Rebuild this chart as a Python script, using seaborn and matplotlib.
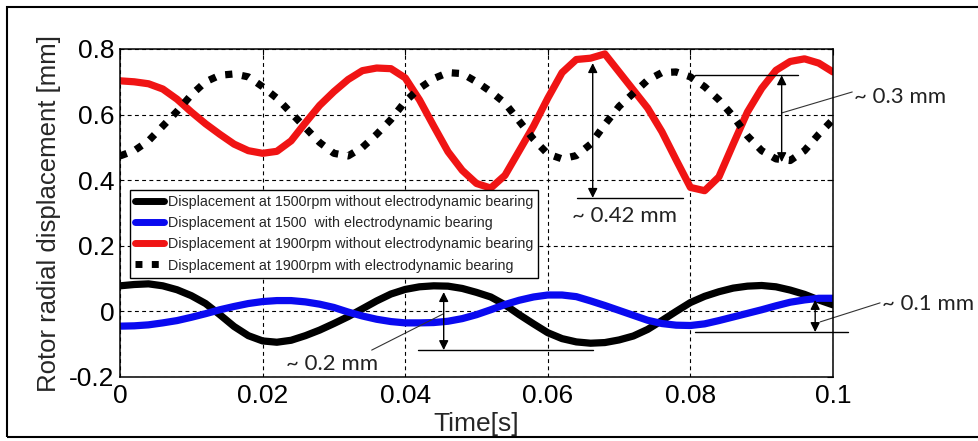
import matplotlib
matplotlib.use('Agg')
import matplotlib.pyplot as plt
from matplotlib.lines import Line2D
from matplotlib.patches import Rectangle
import seaborn as sns
import pandas as pd

# time axis [s]
time_s = [0.000, 0.002, 0.004, 0.006, 0.008, 0.010, 0.012, 0.014, 0.016, 0.018,
          0.020, 0.022, 0.024, 0.026, 0.028, 0.030, 0.032, 0.034, 0.036, 0.038,
          0.040, 0.042, 0.044, 0.046, 0.048, 0.050, 0.052, 0.054, 0.056, 0.058,
          0.060, 0.062, 0.064, 0.066, 0.068, 0.070, 0.072, 0.074, 0.076, 0.078,
          0.080, 0.082, 0.084, 0.086, 0.088, 0.090, 0.092, 0.094, 0.096, 0.098,
          0.100]

# displacement [mm]
disp_1500_without = [0.078, 0.082, 0.084, 0.078, 0.066, 0.048, 0.024, -0.010, -0.046, -0.074,
                     -0.090, -0.094, -0.088, -0.074, -0.057, -0.037, -0.016, 0.008, 0.032, 0.053,
                     0.067, 0.075, 0.078, 0.077, 0.070, 0.058, 0.044, 0.020, -0.010, -0.038,
                     -0.065, -0.083, -0.093, -0.097, -0.095, -0.087, -0.075, -0.055, -0.028, 0.000,
                     0.027, 0.046, 0.060, 0.071, 0.077, 0.079, 0.075, 0.065, 0.052, 0.035,
                     0.020]
disp_1500_with = [-0.045, -0.044, -0.041, -0.035, -0.028, -0.018, -0.007, 0.005, 0.015, 0.024,
                  0.030, 0.033, 0.033, 0.029, 0.022, 0.012, -0.002, -0.014, -0.024, -0.031,
                  -0.035, -0.035, -0.034, -0.030, -0.022, -0.010, 0.005, 0.021, 0.034, 0.044,
                  0.050, 0.050, 0.045, 0.032, 0.018, 0.003, -0.012, -0.027, -0.037, -0.042,
                  -0.043, -0.038, -0.028, -0.017, -0.006, 0.005, 0.017, 0.028, 0.035, 0.040,
                  0.040]
disp_1900_without = [0.703, 0.700, 0.694, 0.678, 0.647, 0.608, 0.572, 0.540, 0.510, 0.490,
                     0.482, 0.488, 0.520, 0.575, 0.628, 0.670, 0.707, 0.734, 0.742, 0.740,
                     0.712, 0.645, 0.565, 0.487, 0.430, 0.390, 0.376, 0.415, 0.490, 0.565,
                     0.650, 0.728, 0.768, 0.772, 0.785, 0.730, 0.675, 0.620, 0.548, 0.462,
                     0.378, 0.368, 0.410, 0.510, 0.608, 0.680, 0.735, 0.762, 0.770, 0.757,
                     0.730]
disp_1900_with = [0.474, 0.490, 0.520, 0.565, 0.610, 0.660, 0.700, 0.720, 0.724, 0.715,
                  0.685, 0.650, 0.605, 0.560, 0.515, 0.482, 0.474, 0.500, 0.540, 0.585,
                  0.640, 0.680, 0.710, 0.728, 0.725, 0.700, 0.670, 0.635, 0.580, 0.525,
                  0.480, 0.465, 0.475, 0.510, 0.570, 0.625, 0.665, 0.705, 0.728, 0.730,
                  0.715, 0.685, 0.645, 0.595, 0.535, 0.490, 0.465, 0.460, 0.490, 0.540,
                  0.585]

series_labels = ['Displacement at 1500rpm without electrodynamic bearing',
                 'Displacement at 1500  with electrodynamic bearing',
                 'Displacement at 1900rpm without electrodynamic bearing',
                 'Displacement at 1900rpm with electrodynamic bearing']
series_values = [disp_1500_without, disp_1500_with, disp_1900_without, disp_1900_with]
series_colors = ['black', '#0a0af0', '#f01414', 'black']
dotted = (1, 1.35)
series_dashes = ['', '', '', dotted]

x_ticks = [0, 0.02, 0.04, 0.06, 0.08, 0.1]
x_ticklabels = ['0', '0.02', '0.04', '0.06', '0.08', '0.1']
y_ticks = [-0.2, 0, 0.2, 0.4, 0.6, 0.8]
y_ticklabels = ['-0.2', '0', '0.2', '0.4', '0.6', '0.8']

df = pd.concat([pd.DataFrame({'time': time_s, 'disp': v, 'series': lab})
                for lab, v in zip(series_labels, series_values)], ignore_index=True)

sns.set_style('white')
plt.rcParams['font.family'] = ['Liberation Sans', 'DejaVu Sans']

fig = plt.figure(figsize=(9.79, 4.41), dpi=100)
ax = fig.add_axes([120 / 979, 64 / 441, 713 / 979, 328 / 441])

sns.lineplot(data=df, x='time', y='disp', hue='series', style='series',
             palette=dict(zip(series_labels, series_colors)),
             dashes=dict(zip(series_labels, series_dashes)),
             linewidth=5.2, estimator=None, sort=False, legend=False, ax=ax)

ax.set_xlim(0, 0.1)
ax.set_ylim(-0.2, 0.8)
ax.set_xticks(x_ticks)
ax.set_xticklabels(x_ticklabels)
ax.set_yticks(y_ticks)
ax.set_yticklabels(y_ticklabels)
ax.tick_params(axis='both', direction='in', length=4, width=0.8, labelsize=19,
               top=True, right=True, colors='black')
ax.tick_params(axis='x', pad=5)
ax.tick_params(axis='y', pad=4)
ax.grid(True, color='black', linestyle=(0, (3.5, 3)), linewidth=0.8)
for s in ax.spines.values():
    s.set_color('black')
    s.set_linewidth(1.1)

ax.set_xlabel('Time[s]', fontsize=19, labelpad=3)
ax.set_ylabel('Rotor radial displacement [mm]', fontsize=18.5)
ax.yaxis.set_label_coords(-0.083, 0.5)

# legend
handles = [Line2D([0], [0], color=c, lw=5,
                  linestyle='-' if d == '' else (0, d))
           for c, d in zip(series_colors, series_dashes)]
leg = ax.legend(handles, series_labels, loc='upper left', bbox_to_anchor=(0.014, 0.570),
                frameon=True, fancybox=False, edgecolor='black', framealpha=1,
                fontsize=10.3, handlelength=2.0, handletextpad=0.3, labelspacing=0.5,
                borderpad=0.35, borderaxespad=0)
leg.get_frame().set_linewidth(1.0)

# measurement annotations
ann_font = dict(family=['Lato', 'DejaVu Sans'], size=16, color='#222222')
arrow = dict(arrowstyle='<|-|>', color='black', lw=1, mutation_scale=14,
             shrinkA=0, shrinkB=0)

def span(x, y0, y1, hx0, hx1, hy):
    ax.annotate('', xy=(x, y0), xytext=(x, y1), arrowprops=arrow, annotation_clip=False)
    ax.plot([hx0, hx1], [hy, hy], color='black', lw=1, clip_on=False)

span(0.0928, 0.72, 0.455, 0.0806, 0.0951, 0.72)
ax.plot([0.0928, 0.1027], [0.605, 0.669], color='#333333', lw=0.8, clip_on=False)
ax.text(0.1029, 0.655, '~ 0.3 mm', ha='left', va='center', **ann_font)

span(0.0663, 0.757, 0.346, 0.0641, 0.0790, 0.346)
ax.text(0.0708, 0.292, '~ 0.42 mm', ha='center', va='center', **ann_font)

span(0.0454, 0.059, -0.118, 0.0418, 0.0663, -0.118)
ax.plot([0.0353, 0.0453], [-0.118, -0.008], color='#333333', lw=0.8)
ax.text(0.0297, -0.160, '~ 0.2 mm', ha='center', va='center', **ann_font)

span(0.0975, 0.035, -0.063, 0.0806, 0.1021, -0.063)
ax.plot([0.0982, 0.1066], [-0.032, 0.026], color='#333333', lw=0.8, clip_on=False)
ax.text(0.1069, 0.022, '~ 0.1 mm', ha='left', va='center', **ann_font)

# outer frame of the original figure
fig.add_artist(Rectangle((7 / 979, 4 / 441), 1.1, 430 / 441, transform=fig.transFigure,
                         fill=False, edgecolor='black', lw=1.5))

fig.savefig('out.png', dpi=100, facecolor='white')
